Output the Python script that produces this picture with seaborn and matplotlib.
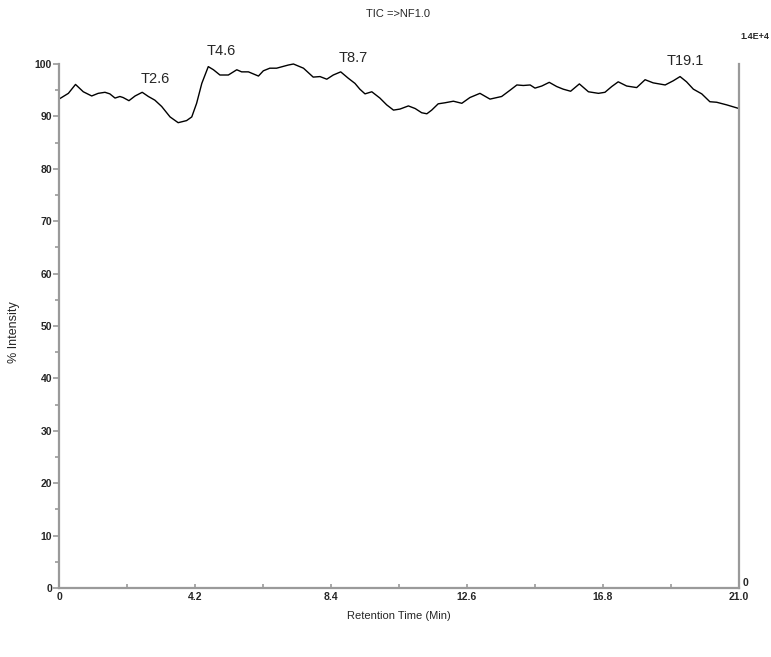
import matplotlib
matplotlib.use("Agg")
import matplotlib.pyplot as plt
import seaborn as sns
import pandas as pd
import numpy as np

# Retention time (min) and % intensity
time_min = [0.0, 0.29, 0.51, 0.75, 1.01, 1.21, 1.42, 1.57, 1.73, 1.88, 1.98, 2.16, 2.35,
            2.57, 2.76, 2.96, 3.17, 3.43, 3.68, 3.94, 4.10, 4.25, 4.41, 4.61, 4.77,
            4.97, 5.23, 5.49, 5.64, 5.85, 6.16, 6.31, 6.51, 6.72, 7.08, 7.24, 7.55,
            7.85, 8.06, 8.27, 8.47, 8.70, 8.93, 9.14, 9.29, 9.45, 9.66, 9.91, 10.12,
            10.33, 10.53, 10.79, 11.00, 11.20, 11.36, 11.51, 11.71, 11.92, 12.18,
            12.44, 12.69, 13.00, 13.31, 13.67, 13.93, 14.14, 14.34, 14.55, 14.70,
            14.91, 15.14, 15.37, 15.57, 15.80, 16.07, 16.35, 16.66, 16.86, 17.07,
            17.27, 17.53, 17.84, 18.10, 18.35, 18.72, 18.97, 19.18, 19.38, 19.59,
            19.85, 20.10, 20.31, 20.62, 21.0]
intensity = [93.3, 94.4, 96.1, 94.7, 93.9, 94.4, 94.6, 94.3, 93.5, 93.8, 93.6, 93.0, 93.9,
             94.6, 93.8, 93.1, 91.9, 89.9, 88.8, 89.2, 89.9, 92.5, 96.3, 99.5, 98.9,
             97.9, 97.9, 98.9, 98.5, 98.5, 97.7, 98.7, 99.2, 99.2, 99.8, 100.0, 99.2,
             97.5, 97.6, 97.1, 97.9, 98.5, 97.3, 96.3, 95.2, 94.3, 94.7, 93.5, 92.2,
             91.2, 91.4, 92.0, 91.5, 90.7, 90.5, 91.2, 92.4, 92.6, 92.9,
             92.5, 93.6, 94.4, 93.3, 93.8, 95.0, 96.0, 95.9, 96.0, 95.4,
             95.8, 96.5, 95.7, 95.2, 94.8, 96.2, 94.7, 94.4, 94.6, 95.7,
             96.6, 95.8, 95.5, 97.0, 96.4, 96.0, 96.8, 97.6, 96.6, 95.2,
             94.3, 92.8, 92.7, 92.2, 91.5]

peak_labels = ["T2.6", "T4.6", "T8.7", "T19.1"]
peak_label_x = [2.96, 5.0, 9.08, 19.33]
peak_label_y = [97.1, 102.5, 101.1, 100.5]

x_ticks = [0, 4.2, 8.4, 12.6, 16.8, 21.0]
x_ticklabels = ["0", "4.2", "8.4", "12.6", "16.8", "21.0"]
y_ticks = [0, 10, 20, 30, 40, 50, 60, 70, 80, 90, 100]
y_ticklabels = [str(v) for v in y_ticks]

sns.set_style("white")
plt.rcParams["font.family"] = ["Liberation Sans", "DejaVu Sans"]

fig = plt.figure(figsize=(7.71, 6.57), dpi=100)
ax = fig.add_axes([59 / 771, 1 - 588 / 657, 680 / 771, 524 / 657])

df = pd.DataFrame({"t": time_min, "v": intensity})
sns.lineplot(data=df, x="t", y="v", ax=ax, color="black", linewidth=1.0)
for line in ax.lines:
    line.set_clip_on(False)
    line.set_solid_joinstyle("round")

ax.set_xlim(0, 21.0)
ax.set_ylim(0, 100)

gray = "#9a9a9a"
ax.spines["top"].set_visible(False)
for s in ["left", "right", "bottom"]:
    ax.spines[s].set_color(gray)
    ax.spines[s].set_linewidth(1.6)

ax.set_xticks(x_ticks)
ax.set_xticklabels(x_ticklabels)
ax.set_xticks(np.arange(2.1, 21.0, 4.2), minor=True)
ax.set_yticks(y_ticks)
ax.set_yticklabels(y_ticklabels)
ax.set_yticks(np.arange(5, 100, 10), minor=True)

ax.tick_params(axis="y", which="both", left=True, direction="out", color=gray,
               width=1.2, labelsize=7.5)
ax.tick_params(axis="y", which="major", length=4, pad=1)
ax.tick_params(axis="y", which="minor", length=3)
ax.tick_params(axis="x", which="both", bottom=True, direction="in", color=gray,
               width=1.2, labelsize=7.5, pad=3)
ax.tick_params(axis="x", which="major", length=3)
ax.tick_params(axis="x", which="minor", length=3)
for lab in ax.get_xticklabels() + ax.get_yticklabels():
    lab.set_fontweight("bold")

ax.set_xlabel("Retention Time (Min)", fontsize=8)
ax.xaxis.set_label_coords(0.5, -(611 - 588) / 524)
ax.set_ylabel("% Intensity", fontsize=9)
ax.yaxis.set_label_coords(-(59 - 20) / 680, (588 - 332) / 524)

for lbl, px, py in zip(peak_labels, peak_label_x, peak_label_y):
    ax.text(px, py, lbl, ha="center", va="center", fontsize=10.5, clip_on=False)

ax.text(1.002, 1.052, "1.4E+4", transform=ax.transAxes, ha="left", va="center",
        fontsize=6.5, fontweight="bold")
ax.text(1.006, 0.01, "0", transform=ax.transAxes, ha="left", va="center",
        fontsize=7.5, fontweight="bold")

fig.text(398 / 771, 1 - 14 / 657, "TIC =>NF1.0", ha="center", va="center", fontsize=8)

fig.savefig("out.png", dpi=100)
